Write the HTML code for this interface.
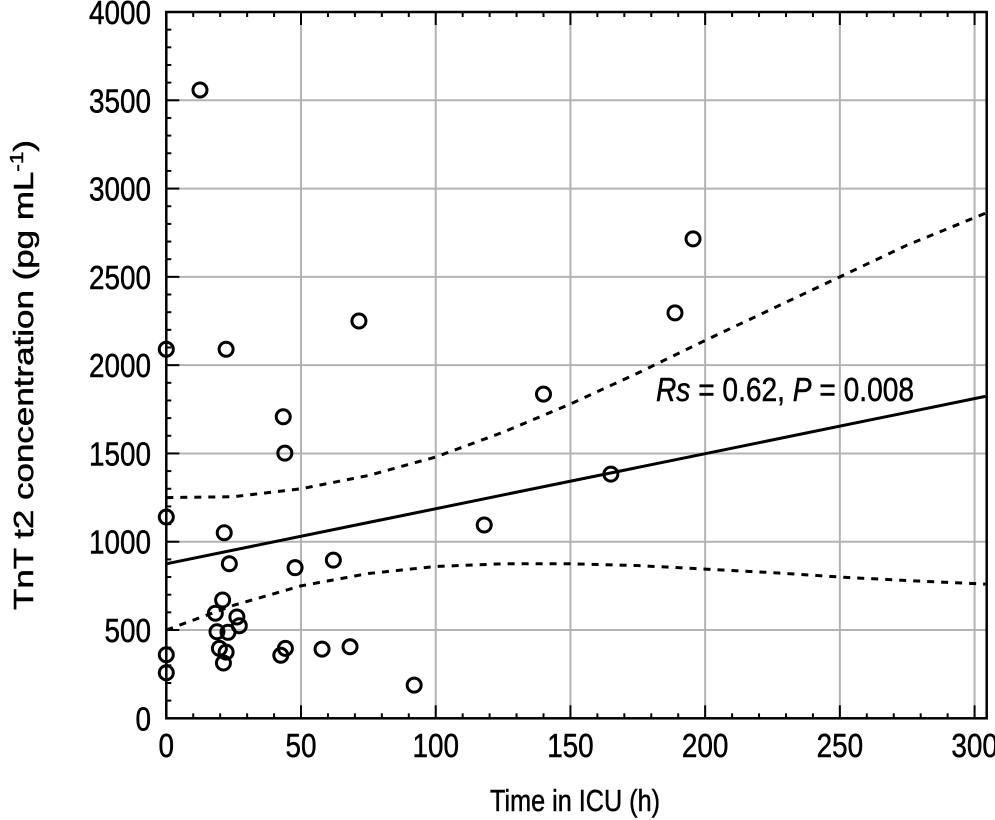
<!DOCTYPE html>
<html><head><meta charset="utf-8"><style>body{margin:0;background:#fff}svg{display:block}text{font-family:"Liberation Sans",sans-serif;fill:#000;stroke:#000;stroke-width:0.5}</style></head>
<body>
<svg id="chart" width="995" height="820" viewBox="0 0 995 820" xmlns="http://www.w3.org/2000/svg">
<g id="grid"></g>
<g id="axes"></g>
<g id="series"></g>
<text x="656" y="401" font-size="33" textLength="258" lengthAdjust="spacingAndGlyphs"><tspan font-style="italic">Rs</tspan> = 0.62, <tspan font-style="italic">P</tspan> = 0.008</text>
<text x="575" y="811" font-size="31" text-anchor="middle" textLength="170" lengthAdjust="spacingAndGlyphs">Time in ICU (h)</text>
<text transform="translate(33,375) rotate(-90)" font-size="28" text-anchor="middle" textLength="470" lengthAdjust="spacingAndGlyphs">TnT t2 concentration (pg mL<tspan dy="-10" font-size="18">-1</tspan><tspan dy="10">)</tspan></text>
</svg>
<script>
const xTicks=[0,50,100,150,200,250,300];
const yTicks=[0,500,1000,1500,2000,2500,3000,3500,4000];
const ptX=[12.5,0,0,0,0,21.5,23.4,20.9,18.2,26.2,27.1,18.8,22.9,19.7,22.2,21.2,42.5,44.2,57.8,68.2,92,47.8,62,43.4,44,22.2,71.5,118,140,165,188.8,195.5];
const ptY=[3558,2090,1140,360,258,1051,875,670,595,574,524,490,487,396,375,313,357,396,392,405,188,853,896,1708,1502,2090,2250,1095,1836,1383,2296,2715];
const fitX=[0,304];
const fitY=[875,1823];
const ciX=[0,25,50,75,100,125,150,175,200,225,250,275,304];
const ciUpper=[1250,1255,1300,1375,1480,1620,1780,1955,2140,2320,2500,2680,2860];
const ciLower=[500,640,750,820,860,875,875,865,845,825,800,780,760];
const X0=166.3,X1=986.7,XMAX=304.5,Y0=718.3,Y1=12,YMAX=4000;
const sx=v=>X0+v/XMAX*(X1-X0), sy=v=>Y0-v/YMAX*(Y0-Y1);
const NS="http://www.w3.org/2000/svg";
function mk(tag,attrs,parent){const e=document.createElementNS(NS,tag);for(const k in attrs)e.setAttribute(k,attrs[k]);parent.appendChild(e);return e;}
const grid=document.getElementById('grid'),axes=document.getElementById('axes'),series=document.getElementById('series');
xTicks.forEach(t=>{if(t>0){const l=mk('line',{x1:sx(t),x2:sx(t),y1:Y1,y2:Y0,stroke:'#b3b3b3','stroke-width':2},grid);}});
yTicks.forEach(t=>{if(t>0&&t<YMAX){const l=mk('line',{x1:X0,x2:X1,y1:sy(t),y2:sy(t),stroke:'#b3b3b3','stroke-width':2},grid);}});
const fr=mk('rect',{x:X0,y:Y1,width:X1-X0,height:Y0-Y1,fill:'none',stroke:'#000','stroke-width':2.5},axes);


for(let v=0;v<=300;v+=10){const L=v%50===0?13:5;mk('line',{x1:sx(v),x2:sx(v),y1:Y0,y2:Y0-L,stroke:'#000','stroke-width':2},axes);mk('line',{x1:sx(v),x2:sx(v),y1:Y1,y2:Y1+L,stroke:'#000','stroke-width':2},axes);}
for(let v=0;v<=4000;v+=100){const L=v%500===0?13:5;mk('line',{x1:X0,x2:X0+L,y1:sy(v),y2:sy(v),stroke:'#000','stroke-width':2},axes);}
xTicks.forEach(t=>{const s=String(t);const e=mk('text',{x:sx(t),y:757,'font-size':33,'text-anchor':'middle',textLength:s.length*15.5,lengthAdjust:'spacingAndGlyphs'},axes);e.textContent=s;});
yTicks.forEach(t=>{const s=String(t);const e=mk('text',{x:151,y:sy(t)+12,'font-size':33,'text-anchor':'end',textLength:s.length*15.5,lengthAdjust:'spacingAndGlyphs'},axes);e.textContent=s;});
const path=(xs,ys)=>xs.map((x,i)=>(i?'L':'M')+sx(x)+','+sy(ys[i])).join(' ');
const cu=mk('path',{d:path(ciX,ciUpper),fill:'none',stroke:'#000','stroke-width':3,'stroke-dasharray':'7,7'},series);


const cl=mk('path',{d:path(ciX,ciLower),fill:'none',stroke:'#000','stroke-width':3,'stroke-dasharray':'7,7'},series);


const fl=mk('path',{d:path(fitX,fitY),fill:'none',stroke:'#000','stroke-width':3},series);


ptX.forEach((x,i)=>{const c=mk('circle',{cx:sx(x),cy:sy(ptY[i]),r:7,fill:'none',stroke:'#000','stroke-width':3},series);});
</script>
</body></html>
